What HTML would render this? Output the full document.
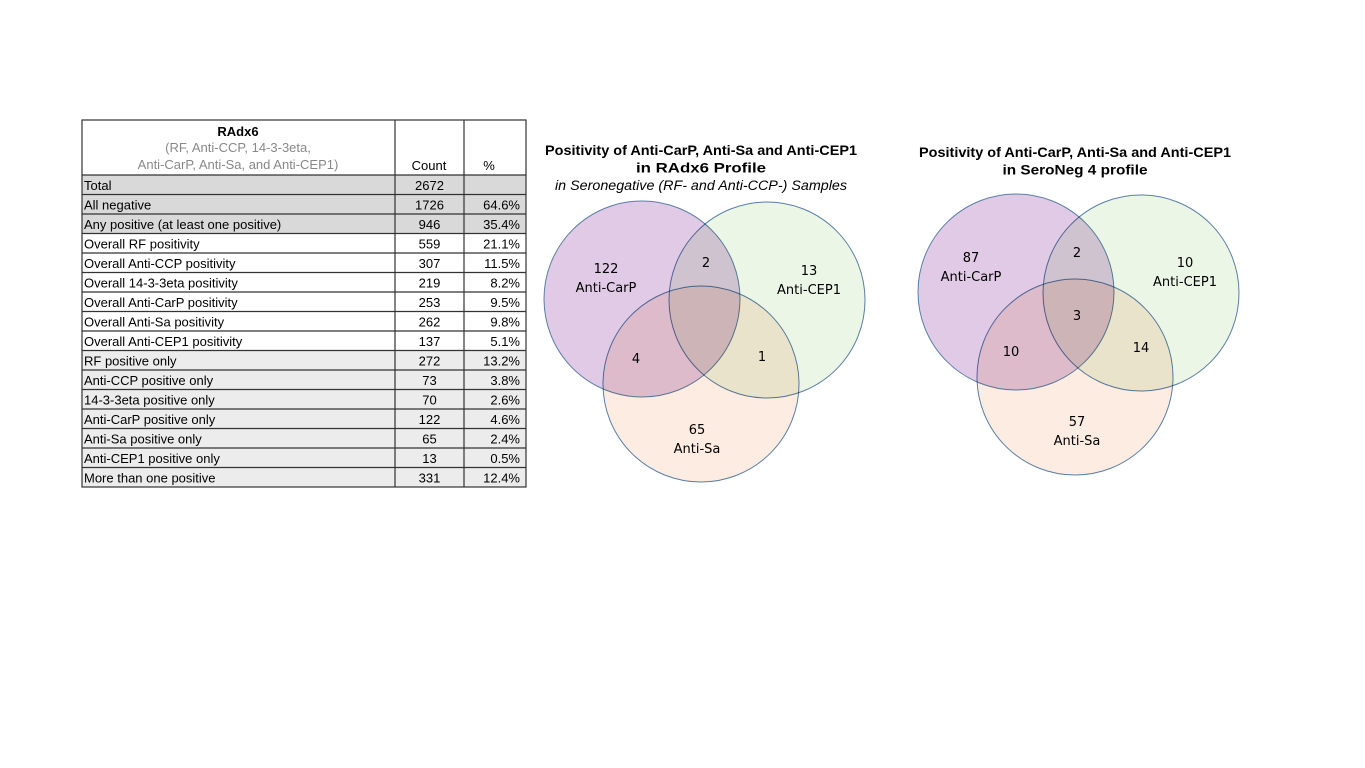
<!DOCTYPE html>
<html><head><meta charset="utf-8"><style>
body{margin:0;background:#fff;width:1365px;height:768px;overflow:hidden;font-family:"Liberation Sans",sans-serif}
svg{position:absolute;left:0;top:0}
</style></head><body>
<svg id="s" width="1365" height="768"></svg>
<script>
const rowLabels=["Total","All negative","Any positive (at least one positive)","Overall RF positivity","Overall Anti-CCP positivity","Overall 14-3-3eta positivity","Overall Anti-CarP positivity","Overall Anti-Sa positivity","Overall Anti-CEP1 positivity","RF positive only","Anti-CCP positive only","14-3-3eta positive only","Anti-CarP positive only","Anti-Sa positive only","Anti-CEP1 positive only","More than one positive"];
const rowCounts=["2672","1726","946","559","307","219","253","262","137","272","73","70","122","65","13","331"];
const rowPcts=["","64.6%","35.4%","21.1%","11.5%","8.2%","9.5%","9.8%","5.1%","13.2%","3.8%","2.6%","4.6%","2.4%","0.5%","12.4%"];
const venn1Values=["122","13","65","2","4","1",""];
const venn2Values=["87","10","57","2","10","14","3"];
const setNames=["Anti-CarP","Anti-CEP1","Anti-Sa"];
const NS="http://www.w3.org/2000/svg";const s=document.getElementById('s');
function el(t,a,p){const e=document.createElementNS(NS,t);for(const k in a)e.setAttribute(k,a[k]);(p||s).appendChild(e);return e;}
function txt(x,y,str,a,p){const e=el('text',Object.assign({x:x,y:y,'font-size':13,fill:'#000'},a),p);e.textContent=str;return e;}
// table
const tg=el('g',{});


const X0=82,X1=395,X2=464,X3=526,Y0=120,YH=175,RH=19.5;
rowLabels.forEach((l,i)=>{
  const y=YH+i*RH;const fill=i<3?'#d9d9d9':(i<9?'#fff':'#ececec');
  const r=el('rect',{x:X0,y:y,width:X3-X0,height:RH,fill:fill},tg);
  
  
  txt(X0+2,y+15,l,{},tg);
  txt((X1+X2)/2,y+15,rowCounts[i],{'text-anchor':'middle'},tg);
  txt(X3-6,y+15,rowPcts[i],{'text-anchor':'end'},tg);
  el('line',{x1:X0,x2:X3,y1:y,y2:y,stroke:'#333','stroke-width':1.2},tg);
});
el('rect',{x:X0,y:Y0,width:X3-X0,height:YH+16*RH-Y0,fill:'none',stroke:'#333','stroke-width':1.2},tg);
[X1,X2].forEach(x=>el('line',{x1:x,x2:x,y1:Y0,y2:YH+16*RH,stroke:'#333','stroke-width':1.2},tg));
txt(238,136,"RAdx6",{'text-anchor':'middle','font-weight':'bold'},tg);
txt(238,152,"(RF, Anti-CCP, 14-3-3eta,",{'text-anchor':'middle',fill:'#888'},tg);
txt(238,169,"Anti-CarP, Anti-Sa, and Anti-CEP1)",{'text-anchor':'middle',fill:'#888'},tg);
txt(429,170,"Count",{'text-anchor':'middle'},tg);
txt(489,170,"%",{'text-anchor':'middle'},tg);
// venns
function venn(cx,cy,ty,vals,titles,name,labOff){
  const g=el('g',{});
  
  
  const c=[[cx-59,cy-42,'#cda9d6'],[cx+66,cy-41,'#e0f0d8'],[cx,cy+43,'#fbe0cf']];
  c.forEach((p,i)=>{const e=el('ellipse',{cx:p[0],cy:p[1],rx:98,ry:98,fill:p[2],'fill-opacity':0.62,stroke:'#5a7ea6','stroke-width':1,style:'mix-blend-mode:multiply'},g);
    
    });
  titles.forEach((t,i)=>txt(cx,ty+i*17.5,t[0],{'text-anchor':'middle','font-weight':t[1]?'bold':'normal','font-style':t[1]?'normal':'italic','font-size':t[1]?14:13.5,textLength:t[2],lengthAdjust:'spacingAndGlyphs'},g));
  labOff.forEach((p,i)=>{
    if(vals[i]==="")return;
    txt(cx+p[0],cy+p[1],vals[i],{'text-anchor':'middle','font-size':13,'font-family':'DejaVu Sans, sans-serif'},g);
    if(i<3)txt(cx+p[0],cy+p[1]+19,setNames[i],{'text-anchor':'middle','font-size':13,'font-family':'DejaVu Sans, sans-serif'},g);
  });
}
venn(701,341,155,venn1Values,[["Positivity of Anti-CarP, Anti-Sa and Anti-CEP1",1,312],["in RAdx6 Profile",1,130],["in Seronegative (RF- and Anti-CCP-) Samples",0,292]],'venn-radx6',
 [[-95,-68],[108,-66],[-4,93],[5,-74],[-65,22],[61,20],[0,0]]);
venn(1075,334,157,venn2Values,[["Positivity of Anti-CarP, Anti-Sa and Anti-CEP1",1,312],["in SeroNeg 4 profile",1,145]],'venn-seroneg4',
 [[-104,-72],[110,-67],[2,92],[2,-77],[-64,22],[66,18],[2,-14]]);
</script>
</body></html>
